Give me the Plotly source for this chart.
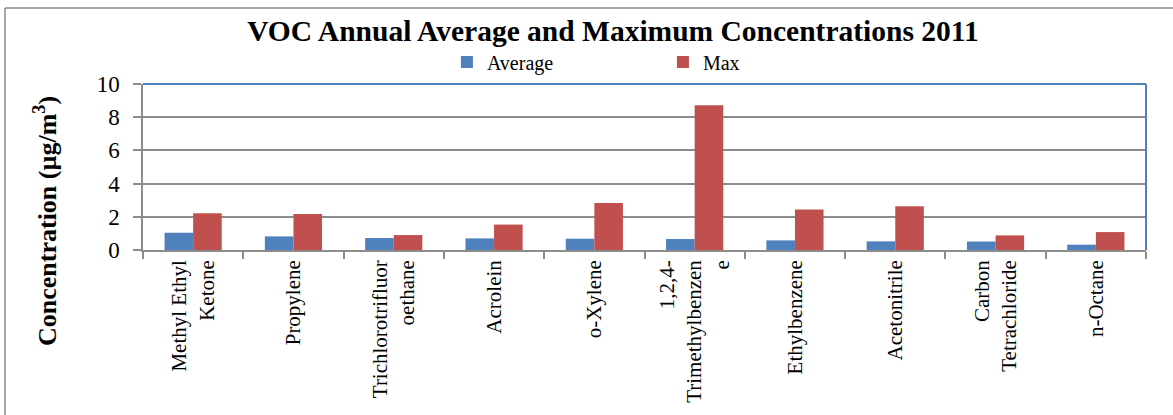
import plotly.graph_objects as go

# VOC compounds (tick labels carry their own line breaks)
compounds = [
    "Methyl Ethyl<br>Ketone",
    "Propylene",
    "Trichlorotrifluor<br>oethane",
    "Acrolein",
    "o-Xylene",
    "1,2,4-<br>Trimethylbenzen<br>e",
    "Ethylbenzene",
    "Acetonitrile",
    "Carbon<br>Tetrachloride",
    "n-Octane",
]
average = [1.04, 0.82, 0.72, 0.70, 0.68, 0.66, 0.58, 0.52, 0.51, 0.32]
maximum = [2.22, 2.17, 0.90, 1.53, 2.83, 8.72, 2.44, 2.63, 0.88, 1.08]
y_ticks = [0, 2, 4, 6, 8, 10]

SERIF = "Liberation Serif, Times New Roman, serif"
BLUE = "#4F81BD"
RED = "#C0504D"
GRID = "#8C8C8C"

fig = go.Figure()
fig.add_trace(go.Bar(x=compounds, y=average, name="Average",
                     marker=dict(color=BLUE, line=dict(width=0))))
fig.add_trace(go.Bar(x=compounds, y=maximum, name="Max",
                     marker=dict(color=RED, line=dict(width=0))))

fig.update_layout(
    width=1173, height=415,
    margin=dict(l=143, r=27, t=84, b=165),
    paper_bgcolor="white", plot_bgcolor="white",
    barmode="group", bargap=0.43, bargroupgap=0,
    font=dict(family=SERIF, color="black"),
    title=dict(text="<b>VOC Annual Average and Maximum Concentrations 2011</b>",
               x=0.4685, xanchor="center", y=0.925, yanchor="middle",
               xref="paper",
               font=dict(size=29.5, family=SERIF, color="black")),
    legend=dict(orientation="h", x=0.303, xanchor="left", y=1.1325, yanchor="middle",
                font=dict(size=20, family=SERIF), entrywidth=171,
                bgcolor="rgba(0,0,0,0)", traceorder="normal"),
    xaxis=dict(showline=True, linecolor=GRID, linewidth=1.5,
               ticks="outside", ticklen=7, tickcolor=GRID, tickwidth=1.5,
               tickson="boundaries", tickangle=-90,
               tickfont=dict(size=21, family=SERIF, color="black"),
               showgrid=False),
    yaxis=dict(range=[0, 10], tickvals=y_ticks, showline=True, linecolor=GRID,
               linewidth=1.5, ticks="outside", ticklen=8, tickcolor=GRID,
               tickwidth=1.5, showgrid=True, gridcolor=GRID, gridwidth=1.5,
               zeroline=False, tickfont=dict(size=23, family=SERIF, color="black"),
               ticklabelstandoff=9),
)

# Plot-area frame: blue top and right edges
fig.add_shape(type="line", xref="paper", yref="paper", x0=0, x1=1, y0=1, y1=1,
              line=dict(color=BLUE, width=2), layer="above")
fig.add_shape(type="line", xref="paper", yref="paper", x0=1, x1=1, y0=0, y1=1,
              line=dict(color=BLUE, width=2), layer="above")

# Outer chart border (top and left edges)
fig.add_shape(type="line", xref="paper", yref="paper",
              x0=(5 - 143) / 1003, x1=1.1, y0=(250 - 8) / 166, y1=(250 - 8) / 166,
              line=dict(color="#888888", width=1.5))
fig.add_shape(type="line", xref="paper", yref="paper",
              x0=(5 - 143) / 1003, x1=(5 - 143) / 1003, y0=-1.2, y1=(250 - 8) / 166,
              line=dict(color="#888888", width=1.5))

# Y-axis title
fig.add_annotation(text="<b>Concentration (µg/m<sup>3</sup>)</b>",
                   xref="paper", yref="paper", x=(45 - 143) / 1003, y=(250 - 221) / 166,
                   xanchor="center", yanchor="middle", textangle=-90, showarrow=False,
                   font=dict(size=26, family=SERIF, color="black"))

fig.write_html("out.html")
